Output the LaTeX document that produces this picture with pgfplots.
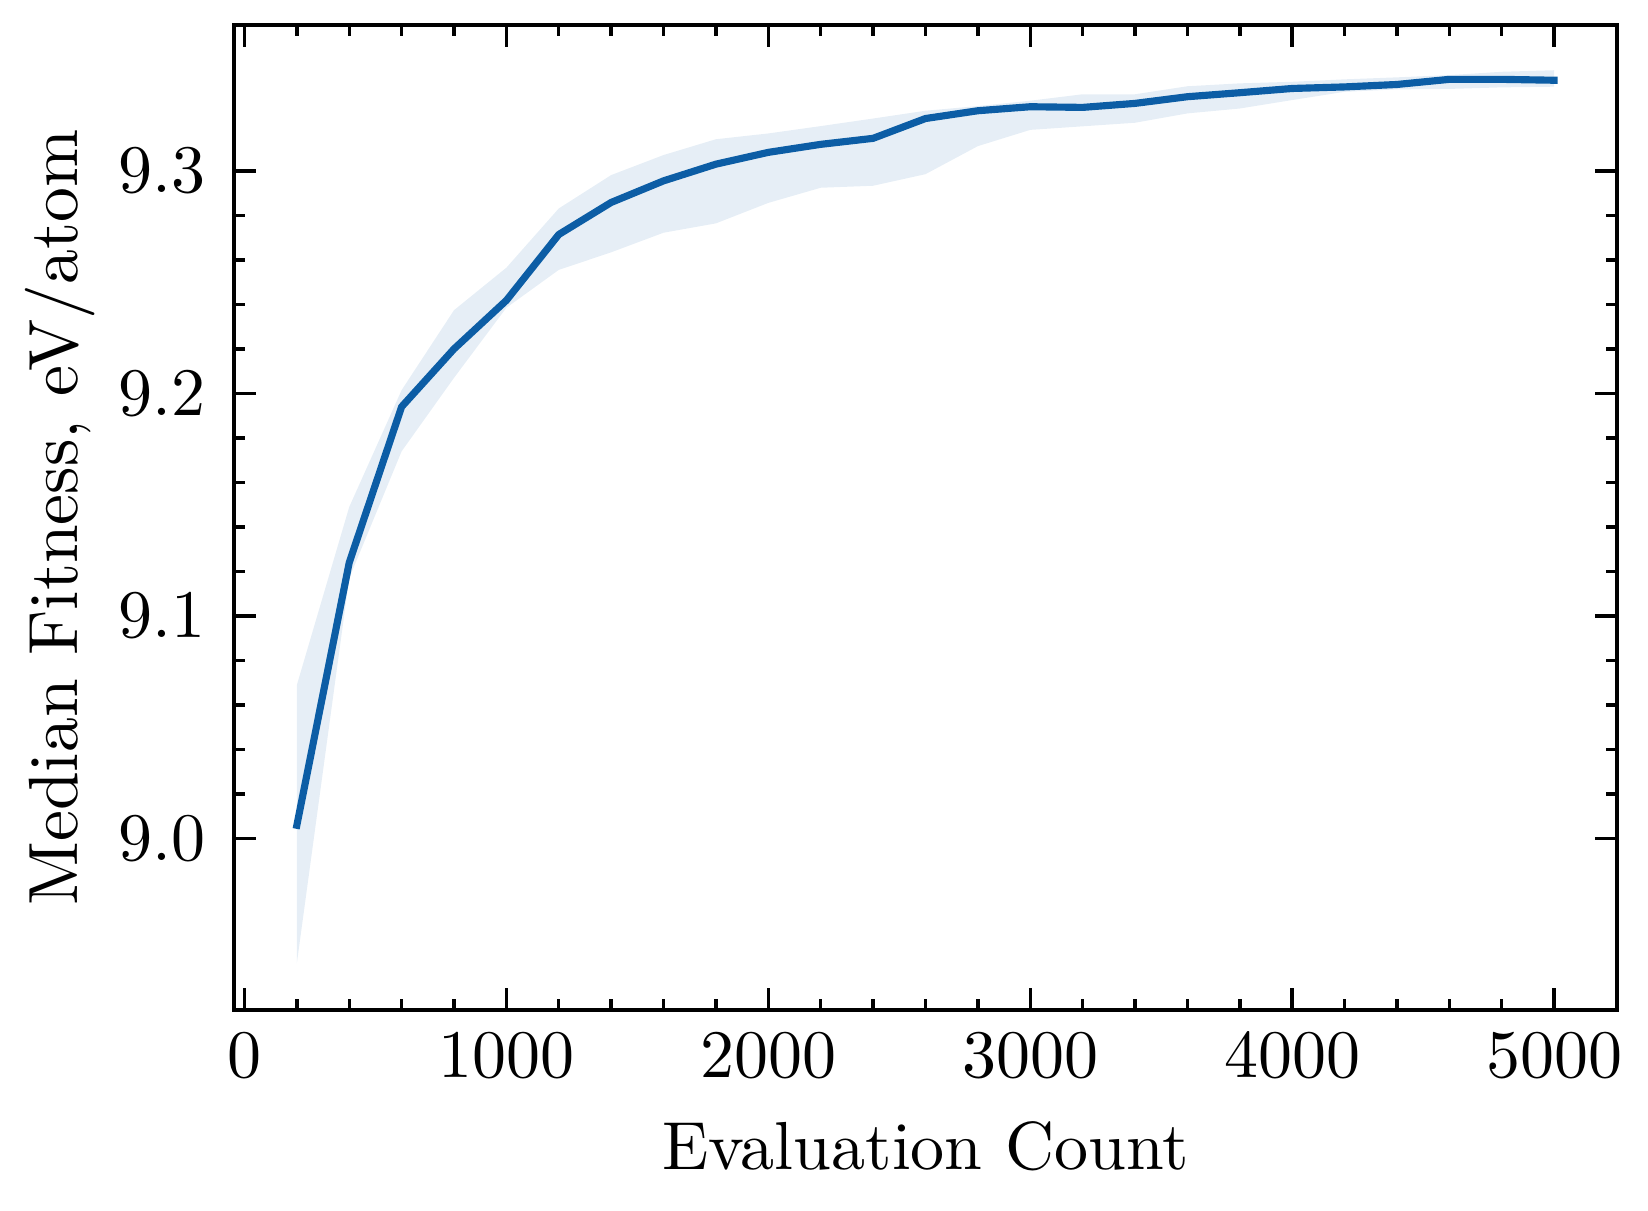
\documentclass[border=0pt]{standalone}
\usepackage{pgfplots}
\pgfplotsset{compat=1.18}
\usepackage{pgfplotstable}
\usepgfplotslibrary{fillbetween}
\definecolor{c0}{HTML}{0C5DA5}

\pgfplotstableread{
x     mid     lo      hi
200   9.006   8.944   9.069
400   9.124   9.117   9.149
600   9.194   9.174   9.2015
800   9.220   9.207   9.2374
1000  9.2418  9.2385  9.2565
1200  9.2714  9.2555  9.2831
1400  9.2858  9.2634  9.2981
1600  9.2955  9.2722  9.3071
1800  9.3030  9.2764  9.3142
2000  9.3083  9.2856  9.3168
2200  9.3119  9.2924  9.3201
2400  9.3146  9.2933  9.3235
2600  9.3235  9.2985  9.3270
2800  9.3270  9.3111  9.3291
3000  9.3288  9.3184  9.3315
3200  9.3285  9.3200  9.3344
3400  9.3303  9.3216  9.3344
3600  9.3333  9.3258  9.3380
3800  9.3351  9.3280  9.3393
4000  9.3370  9.3318  9.3400
4200  9.3377  9.3355  9.3411
4400  9.3388  9.3366  9.3420
4600  9.3411  9.3368  9.3430
4800  9.3411  9.3375  9.3445
5000  9.3407  9.3378  9.3452
}\datatable

\begin{document}
\begin{tikzpicture}
\begin{axis}[
  scale only axis,
  width=203.38pt, height=144.85pt,
  xmin=-40, xmax=5240,
  ymin=8.923, ymax=9.3655,
  xtick={0,1000,2000,3000,4000,5000},
  ytick={9.0,9.1,9.2,9.3},
  minor x tick num=4,
  minor y tick num=4,
  scaled x ticks=false,
  scaled y ticks=false,
  xticklabel style={/pgf/number format/1000 sep={}},
  yticklabel style={/pgf/number format/fixed,/pgf/number format/fixed zerofill,/pgf/number format/precision=1, xshift=-0.6pt},
  tick align=inside,
  major tick length=3.2pt,
  minor tick length=1.6pt,
  every tick/.style={black, line width=0.5pt},
  axis line style={line width=0.5pt},
  xlabel={Evaluation Count},
  ylabel={Median Fitness, eV/atom},
  every axis x label/.style={at={(axis description cs:0.5,-0.1624)}, anchor=base},
  every axis y label/.style={at={(axis description cs:-0.1135,0.5)}, rotate=90, anchor=base, font=\fontsize{10.25}{12}\selectfont},
]
\addplot[name path=hi, draw=none, forget plot] table[x=x, y=hi] {\datatable};
\addplot[name path=lo, draw=none, forget plot] table[x=x, y=lo] {\datatable};
\addplot[fill=c0, fill opacity=0.1, draw=none] fill between[of=hi and lo];
\addplot[c0, line width=1.05pt, line join=round, line cap=rect] table[x=x, y=mid] {\datatable};
\coordinate (bl) at (rel axis cs:0,0);
\coordinate (tr) at (rel axis cs:1,1);
\end{axis}
\path (bl) ++(-34.41pt,-29.41pt) coordinate (a);
\path (tr) ++(4.56pt,3.68pt) coordinate (b);
\pgfresetboundingbox
\path (a) rectangle (b);
\end{tikzpicture}
\end{document}
